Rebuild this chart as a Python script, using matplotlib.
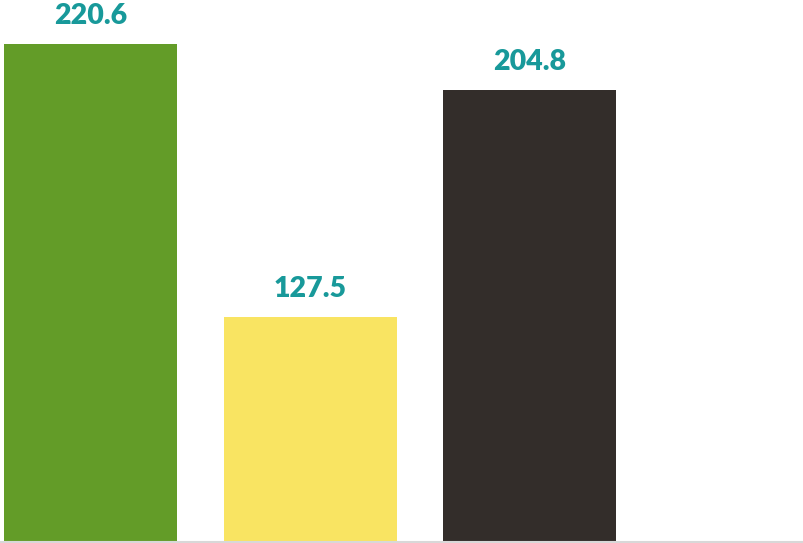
import matplotlib.pyplot as plt
import numpy as np

categories = ['A', 'B', 'C']
values = [220.6, 127.5, 204.8]
colors = ['#639c28', '#f9e462', '#332d2a']
label_color = '#18999a'

plt.rcParams['font.family'] = ['Lato', 'DejaVu Sans']

fig = plt.figure(figsize=(8.04, 5.43), dpi=100)
ax = fig.add_axes([0, 1.5 / 543, 1, 1 - 1.5 / 543])

x = np.arange(len(categories))
bars = ax.bar(x, values, width=0.788, color=colors)

for b, v in zip(bars, values):
    ax.annotate('%.1f' % v, (b.get_x() + b.get_width() / 2, v),
                xytext=(0, 11), textcoords='offset points',
                ha='center', va='bottom', fontsize=20.5, fontweight='heavy',
                color=label_color)

ax.set_xlim(-0.412, 3.25)
ax.set_ylim(51.1, 235.6)
for s in ['top', 'right', 'left']:
    ax.spines[s].set_visible(False)
ax.spines['bottom'].set_color('#d8d8d8')
ax.spines['bottom'].set_linewidth(1.5)
ax.set_xticks([])
ax.set_yticks([])

fig.savefig('out.png', dpi=100)
